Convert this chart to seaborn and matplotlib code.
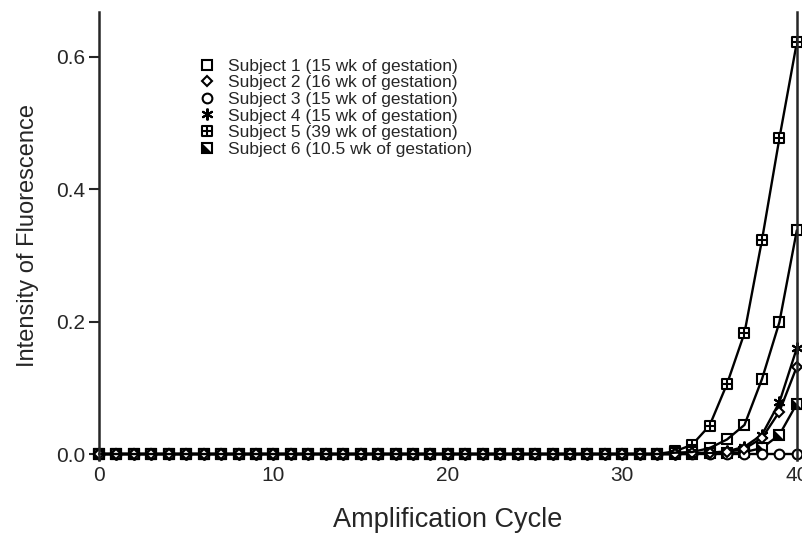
import numpy as np
import pandas as pd
import matplotlib
matplotlib.use('Agg')
import matplotlib.pyplot as plt
from matplotlib.path import Path
from matplotlib.lines import Line2D
import seaborn as sns

# Datos (ciclos 0..40, intensidad de fluorescencia)
ciclos = list(range(41))
base = [0.0] * 33

subj1 = base + [0.002, 0.003, 0.009, 0.022, 0.044, 0.113, 0.199, 0.338]
subj2 = base + [0.0, 0.001, 0.002, 0.003, 0.008, 0.024, 0.064, 0.132]
subj3 = base + [0.0, 0.0, 0.0, 0.0, 0.0, 0.0, 0.0, 0.0]
subj4 = base + [0.0, 0.001, 0.002, 0.004, 0.011, 0.029, 0.078, 0.160]
subj5 = base + [0.004, 0.014, 0.043, 0.106, 0.183, 0.323, 0.477, 0.622]
subj6 = base + [0.0, 0.0, 0.001, 0.001, 0.003, 0.009, 0.029, 0.076]

rotulos = ['Subject 1 (15 wk of gestation)',
           'Subject 2 (16 wk of gestation)',
           'Subject 3 (15 wk of gestation)',
           'Subject 4 (15 wk of gestation)',
           'Subject 5 (39 wk of gestation)',
           'Subject 6 (10.5 wk of gestation)']

# Marcadores especiais
quad_mais = Path([(-1, -1), (1, -1), (1, 1), (-1, 1), (-1, -1),
                  (0, -1), (0, 1), (-1, 0), (1, 0)],
                 [Path.MOVETO, Path.LINETO, Path.LINETO, Path.LINETO, Path.CLOSEPOLY,
                  Path.MOVETO, Path.LINETO, Path.MOVETO, Path.LINETO])
triangulo = Path([(-1, -1), (-1, 1), (1, -1), (-1, -1)],
                 [Path.MOVETO, Path.LINETO, Path.LINETO, Path.CLOSEPOLY])

# --------------------------------------- Figura -----------------------------------------
sns.set_style("ticks")
plt.rcParams['font.family'] = ['Liberation Sans', 'DejaVu Sans']

fig = plt.figure(figsize=(8.03, 5.45), dpi=100)
ax = fig.add_axes([0.1233, 0.156, 0.869, 0.822])

estilos = [
    dict(marker='s', markersize=7),
    dict(marker='D', markersize=5.5),
    dict(marker='o', markersize=7),
    dict(marker=(6, 2, 0), markersize=8.5),
    dict(marker=quad_mais, markersize=7.5),
    dict(marker='s', markersize=7),
]
series = [subj1, subj2, subj3, subj4, subj5, subj6]
preench = ['none', 'white', 'white', 'none', 'white', 'white']

# ordem de desenho: sujeito 6 por baixo, sujeito 1 por cima
for i in [5, 4, 3, 2, 1, 0]:
    sns.lineplot(x=ciclos, y=series[i], ax=ax, color='black', lw=1.7,
                 mfc=preench[i], mec='black', mew=1.5, clip_on=False,
                 legend=False, **estilos[i])
    if i == 5:
        # metade preenchida do sujeito 6
        sns.lineplot(x=ciclos, y=subj6, ax=ax, color='black', lw=0, marker=triangulo,
                     markersize=6.5, mfc='black', mec='black', mew=0, clip_on=False,
                     legend=False)

handles = [Line2D([], [], ls='none', color='black', mfc='none', mec='black',
                  mew=1.5, **est) for est in estilos]
handles[5] = (handles[5], Line2D([], [], ls='none', marker=triangulo, markersize=6.5,
                                 mfc='black', mec='black', mew=0))

ax.set_xlim(0, 40)
ax.set_ylim(-0.009, 0.668)
ax.set_xticks([0, 10, 20, 30, 40])
ax.set_yticks([0.0, 0.2, 0.4, 0.6])
ax.set_yticklabels(['0.0', '0.2', '0.4', '0.6'])
ax.tick_params(axis='y', length=7, width=1.5, labelsize=15, pad=3)
ax.tick_params(axis='x', length=0, labelsize=15, pad=4.5)

for lado in ['left', 'right']:
    ax.spines[lado].set_linewidth(1.8)
ax.spines['top'].set_visible(False)
ax.spines['bottom'].set_visible(False)
ax.spines['right'].set_visible(True)

ax.set_xlabel('Amplification Cycle', fontsize=19.5, labelpad=16)
ax.set_ylabel('Intensity of Fluorescence', fontsize=17, labelpad=12)

ax.legend(handles, rotulos, loc='upper left', bbox_to_anchor=(0.133, 0.915),
          frameon=False, fontsize=12.5, labelspacing=0.08, handlelength=0.8,
          handletextpad=0.8, borderpad=0)

plt.savefig('out.png', dpi=100)
